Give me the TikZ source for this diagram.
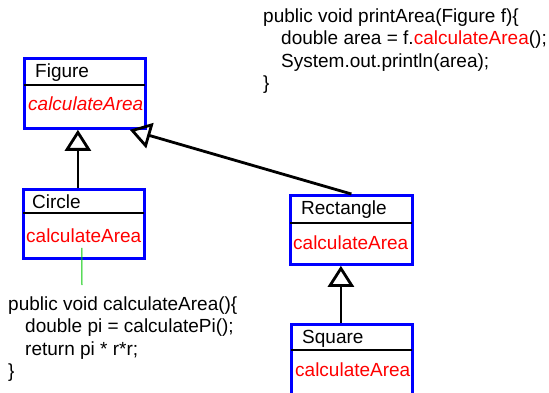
\documentclass[tikz,border=0pt]{standalone}
\usepackage{fontspec}
\setmainfont{Liberation Sans}
\usetikzlibrary{arrows.meta}
\definecolor{umlblue}{RGB}{0,0,255}
\definecolor{umlred}{RGB}{255,0,0}
\definecolor{linkgreen}{RGB}{0,200,0}

\begin{document}
\begin{tikzpicture}[x=1pt,y=-1pt,
  classbox/.style={draw=umlblue, line width=2.8pt, fill=white, rectangle,
                   inner sep=0pt, anchor=north west},
  txt/.style={inner sep=0pt, anchor=base west, font=\fontsize{19}{22}\selectfont},
  method/.style={txt, text=umlred},
  sepline/.style={line width=1.3pt, black},
  inherit/.style={line width=2.8pt, -{Triangle[open, length=21pt, width=26pt]}},
]
\useasboundingbox (0,0) rectangle (549,393);
\clip (0,0) rectangle (549,393);

% class boxes
\node[classbox, minimum width=121pt, minimum height=70pt] (fig)  at (23,57)  {};
\node[classbox, minimum width=121pt, minimum height=69pt] (circ) at (22,188) {};
\node[classbox, minimum width=122pt, minimum height=69pt] (rect) at (289,194) {};
\node[classbox, minimum width=121pt, minimum height=80pt] (sq)   at (290,323) {};

% compartment separators
\draw[sepline] ([xshift=1pt]fig.west |- 0,85)   -- ([xshift=-2pt]fig.east |- 0,85);
\draw[sepline] ([xshift=1pt]circ.west |- 0,213) -- ([xshift=-2pt]circ.east |- 0,213);
\draw[sepline] ([xshift=1pt]rect.west |- 0,223) -- ([xshift=-2pt]rect.east |- 0,223);
\draw[sepline] ([xshift=1pt]sq.west |- 0,350)   -- ([xshift=-2pt]sq.east |- 0,350);

% class names
\node[txt] (figname)  at (35,78)   {Figure};
\node[txt] (circname) at (32,208)  {Circle};
\node[txt] (rectname) at (301,214) {Rectangle};
\node[txt] (sqname)   at (302,343) {Square};

% methods
\node[method, font=\fontsize{19}{22}\selectfont\itshape] (figm) at (28,111) {calculateArea};
\node[method] (circm) at (26,242)  {calculateArea};
\node[method] (rectm) at (293,249) {calculateArea};
\node[method] (sqm)   at (295,376) {calculateArea};

% inheritance
\draw[inherit] ([xshift=-6pt]circ.north) -- ([xshift=-6pt]circ.north |- fig.south);
\draw[inherit] (rect.north) -- ([xshift=-17pt]fig.south east);
\draw[inherit] ([xshift=-11pt]sq.north) -- ([xshift=-11pt]sq.north |- rect.south);

% caller code
\node[txt] (pa1) at (263,22.5) {public void printArea(Figure f)\{};
\node[txt] (pa2) at (281,45)   {double area = f.\textcolor{umlred}{calculateArea}();};
\node[txt] (pa3) at (281,67.5) {System.out.println(area);};
\node[txt] (pa4) at (263,90)   {\}};

% implementation in Circle
\node[txt] (ca1) at (8,310)    {public void calculateArea()\{};
\node[txt] (ca2) at (25,332.5) {double pi = calculatePi();};
\node[txt] (ca3) at (25,355)   {return pi * r*r;};
\node[txt] (ca4) at (8,377.5)  {\}};

% link from the method to its body
\coordinate (gend) at (82,285);
\draw[linkgreen, line width=1pt] ([xshift=-2pt,yshift=12pt]circ.south) -- (gend);
\end{tikzpicture}
\end{document}
